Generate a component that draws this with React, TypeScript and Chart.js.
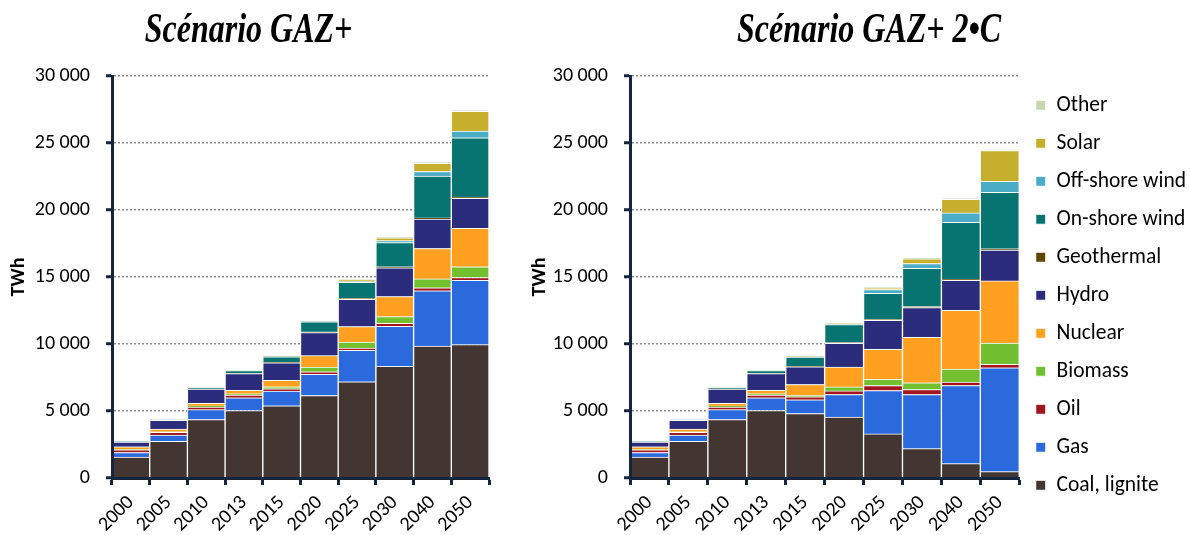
import React, { useEffect, useRef } from 'react';
import { Chart, registerables } from 'chart.js';

Chart.register(...registerables);

// ---------- Data ----------
const YEARS = ['2000', '2005', '2010', '2013', '2015', '2020', '2025', '2030', '2040', '2050'];
const SERIES = ['Coal, lignite', 'Gas', 'Oil', 'Biomass', 'Nuclear', 'Hydro', 'Geothermal', 'On-shore wind', 'Off-shore wind', 'Solar', 'Other'];
const COLORS = ['#433632', '#2B6ADC', '#A0151E', '#72C02F', '#FFA020', '#2B2D7C', '#5E4500', '#077471', '#4BACC6', '#C6AF2D', '#C4D7AF'];

// Scénario GAZ+ (TWh)
const gazCoal = [1570, 2740, 4360, 5040, 5390, 6160, 7180, 8330, 9850, 9950];
const gazGas = [330, 460, 740, 940, 1090, 1570, 2350, 2990, 4120, 4810];
const gazOil = [200, 200, 200, 200, 180, 200, 170, 230, 230, 200];
const gazBiomass = [30, 50, 80, 100, 150, 350, 450, 490, 660, 800];
const gazNuclear = [200, 200, 200, 270, 470, 850, 1150, 1500, 2270, 2870];
const gazHydro = [350, 650, 1050, 1250, 1320, 1720, 2040, 2150, 2200, 2240];
const gazGeo = [5, 10, 15, 20, 30, 50, 60, 70, 80, 100];
const gazOnshore = [15, 30, 60, 200, 420, 750, 1200, 1800, 3130, 4420];
const gazOffshore = [0, 0, 0, 0, 5, 20, 50, 150, 330, 500];
const gazSolar = [0, 0, 5, 10, 20, 30, 150, 220, 620, 1470];
const gazOther = [10, 10, 20, 20, 20, 30, 40, 50, 60, 70];

// Scénario GAZ+ 2°C (TWh)
const c2Coal = [1570, 2740, 4360, 5040, 4810, 4540, 3290, 2190, 1070, 470];
const c2Gas = [330, 460, 740, 940, 1030, 1690, 3240, 4040, 5830, 7760];
const c2Oil = [200, 200, 200, 200, 220, 270, 370, 370, 260, 250];
const c2Biomass = [30, 50, 80, 100, 100, 300, 460, 500, 970, 1590];
const c2Nuclear = [200, 200, 200, 270, 820, 1480, 2240, 3400, 4390, 4640];
const c2Hydro = [350, 650, 1050, 1250, 1320, 1770, 2170, 2220, 2240, 2290];
const c2Geo = [5, 10, 15, 20, 30, 50, 60, 70, 80, 100];
const c2Onshore = [15, 30, 60, 200, 700, 1350, 1960, 2850, 4240, 4220];
const c2Offshore = [0, 0, 0, 0, 5, 20, 270, 360, 700, 820];
const c2Solar = [0, 0, 5, 10, 20, 30, 100, 360, 1020, 2300];
const c2Other = [10, 10, 20, 20, 20, 30, 60, 60, 60, 70];

const GAZ_SERIES = [gazCoal, gazGas, gazOil, gazBiomass, gazNuclear, gazHydro, gazGeo, gazOnshore, gazOffshore, gazSolar, gazOther];
const C2_SERIES = [c2Coal, c2Gas, c2Oil, c2Biomass, c2Nuclear, c2Hydro, c2Geo, c2Onshore, c2Offshore, c2Solar, c2Other];

const Y_MAX = 30000;
const Y_STEP = 5000;

// ---------- Styles ----------
const NAVY = '#13253F';
const FONT = 'Carlito, Calibri, Lato, sans-serif';
const TICK_SIZE = 20;
const LEGEND_SIZE = 21.5;

function fmt(v: number): string {
  if (v === 0) return '0';
  const th = Math.floor(v / 1000);
  const rest = String(v % 1000).padStart(3, '0');
  return `${th} ${rest}`;
}

function makeConfig(seriesData: number[][], showLegend: boolean, yWidth: number, padRight: number): any {
  return {
    type: 'bar',
    data: {
      labels: YEARS,
      datasets: SERIES.map((name, i) => ({
        label: name,
        data: seriesData[i],
        backgroundColor: COLORS[i],
        borderColor: '#ffffff',
        borderWidth: 1,
        barPercentage: 1,
        categoryPercentage: 1,
      })),
    },
    options: {
      responsive: false,
      animation: false,
      layout: { padding: { top: 76, right: padRight, bottom: 0, left: 0 } },
      plugins: {
        tooltip: { enabled: false },
        legend: showLegend
          ? {
              display: true,
              position: 'right',
              align: 'start',
              reverse: true,
              maxWidth: 260,
              title: { display: true, text: '', padding: 0, font: { size: 2, lineHeight: 1 } },
              labels: {
                boxWidth: 10,
                boxHeight: 10,
                padding: 38 - LEGEND_SIZE,
                color: '#000',
                font: { family: FONT, size: LEGEND_SIZE },
              },
            }
          : { display: false },
      },
      scales: {
        x: {
          stacked: true,
          grid: {
            display: true,
            drawOnChartArea: false,
            drawTicks: true,
            offset: true,
            tickLength: 7,
            tickWidth: 3,
            tickColor: NAVY,
          },
          border: { display: true, color: NAVY, width: 3, z: 1 },
          ticks: {
            autoSkip: false,
            minRotation: 45,
            maxRotation: 45,
            padding: 6,
            color: '#000',
            font: { family: FONT, size: TICK_SIZE },
          },
          afterFit: (s: any) => {
            s.height = 57;
          },
        },
        y: {
          stacked: true,
          min: 0,
          max: Y_MAX,
          ticks: {
            stepSize: Y_STEP,
            padding: 16,
            color: '#000',
            font: { family: FONT, size: TICK_SIZE },
            callback: (v: any) => fmt(Number(v)),
          },
          grid: {
            color: '#8c8c8c',
            lineWidth: 1.5,
            tickColor: NAVY,
            tickWidth: 3,
            tickLength: 6,
            tickBorderDash: [],
          },
          border: { display: true, color: NAVY, width: 3, dash: [2, 2], z: 1 },
          title: {
            display: true,
            text: 'TWh',
            color: '#000',
            font: { family: FONT, size: 20, weight: 'bold' },
            padding: { top: 7, bottom: 4 },
          },
          afterFit: (s: any) => {
            s.width = yWidth;
          },
        },
      },
    },
  };
}

const titleStyle = (left: number, width: number): React.CSSProperties => ({
  position: 'absolute',
  left,
  top: 15,
  width,
  textAlign: 'center',
  fontFamily: '"Liberation Serif", "Times New Roman", serif',
  fontWeight: 'bold',
  fontStyle: 'italic',
  fontSize: 32,
  lineHeight: '32px',
  color: '#000',
  transform: 'scaleY(1.3)',
  transformOrigin: '50% 27px',
  whiteSpace: 'nowrap',
  zIndex: 2,
});

export default function App() {
  const leftRef = useRef<HTMLCanvasElement | null>(null);
  const rightRef = useRef<HTMLCanvasElement | null>(null);

  useEffect(() => {
    const charts: Chart[] = [];
    if (leftRef.current) {
      charts.push(new Chart(leftRef.current, makeConfig(GAZ_SERIES, false, 112, 11)));
    }
    if (rightRef.current) {
      charts.push(new Chart(rightRef.current, makeConfig(C2_SERIES, true, 109, 0)));
    }
    return () => {
      charts.forEach((c) => c.destroy());
    };
  }, []);

  return (
    <div
      style={{
        position: 'fixed',
        left: 0,
        top: 0,
        width: 1190,
        height: 535,
        overflow: 'hidden',
        background: '#ffffff',
      }}
    >
      <div style={titleStyle(0, 497)}>Scénario GAZ+</div>
      <div style={titleStyle(600, 538)}>Scénario GAZ+ 2•C</div>
      <canvas ref={leftRef} width={500} height={535} style={{ position: 'absolute', left: 0, top: 0 }} />
      <canvas ref={rightRef} width={675} height={535} style={{ position: 'absolute', left: 521, top: 0 }} />
    </div>
  );
}
